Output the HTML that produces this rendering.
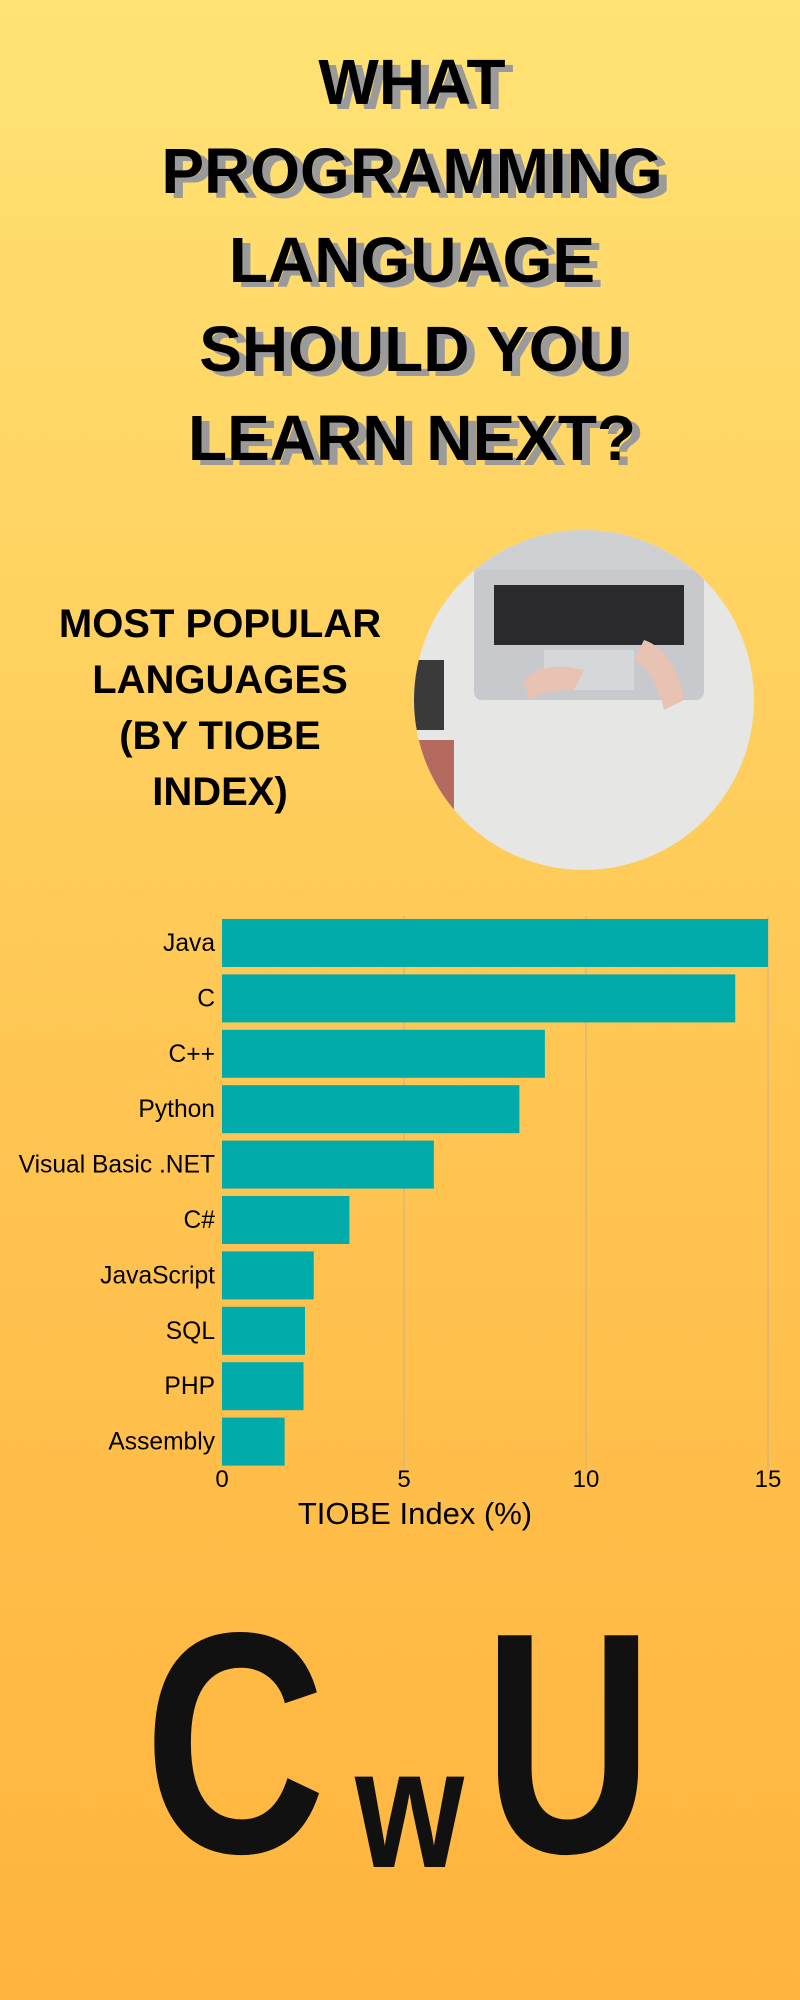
<!DOCTYPE html>
<html><head><meta charset="utf-8"><style>
body{margin:0;width:800px;height:2000px;overflow:hidden;background:linear-gradient(#FFE374,#FFC552 55%,#FFB43E);font-family:"Liberation Sans",sans-serif;position:relative}
.t{position:absolute;left:12px;width:800px;text-align:center;font-weight:bold;font-size:64px;color:#000;text-shadow:8px 5px 0 #9a9a9a;line-height:89px}
.s{position:absolute;left:20px;width:400px;text-align:center;font-weight:bold;font-size:40px;line-height:56px}
.lg{position:absolute;font-weight:bold;color:#111;line-height:1;transform-origin:0 0}
</style></head><body>
<div class="t" style="top:38px">WHAT<br>PROGRAMMING<br>LANGUAGE<br>SHOULD YOU<br>LEARN NEXT?</div>
<div class="s" style="top:596px">MOST POPULAR<br>LANGUAGES<br>(BY TIOBE<br>INDEX)</div>
<svg style="position:absolute;left:414px;top:530px" width="340" height="340">
<defs><clipPath id="cc"><circle cx="170" cy="170" r="170"/></clipPath></defs>
<g clip-path="url(#cc)">
<rect width="340" height="340" fill="#e6e6e4"/>
<rect x="60" y="0" width="220" height="60" fill="#cfd0d2"/>
<rect x="60" y="40" width="230" height="130" rx="8" fill="#c8c9cc"/>
<rect x="80" y="55" width="190" height="60" fill="#2a2a2c"/>
<rect x="130" y="120" width="90" height="40" fill="#d6d7d9"/>
<rect x="0" y="130" width="30" height="70" fill="#3a3a3a"/>
<rect x="0" y="210" width="40" height="110" fill="#b56a60"/>
<path d="M230 110 q30 10 40 60 l-20 10 q-10 -40 -30 -50z" fill="#e8c3b4"/>
<path d="M110 150 q20 -20 60 -10 l-10 20 q-30 0 -45 10z" fill="#e8c3b4"/>
</g></svg>
<svg id="chart" style="position:absolute;left:0;top:0" width="800" height="2000"></svg>
<div class="lg" style="left:144px;top:1586px;font-size:315px;transform:scaleX(0.8)">C</div>
<div class="lg" style="left:355px;top:1723px;font-size:171px;transform:scaleX(0.82)">w</div>
<div class="lg" style="left:484px;top:1586px;font-size:315px;transform:scaleX(0.74)">U</div>
<script>
const categories=["Java","C","C++","Python","Visual Basic .NET","C#","JavaScript","SQL","PHP","Assembly"];
const values=[15.0,14.1,8.87,8.17,5.82,3.5,2.52,2.28,2.24,1.72];
const ticks=[0,5,10,15];
const svg=document.getElementById('chart');const NS="http://www.w3.org/2000/svg";
const x0=222,x1=768,top0=916,step=55.4,bh=48;
const xs=v=>x0+(v-0)/(15-0)*(x1-x0);
function mk(t,a,txt){const e=document.createElementNS(NS,t);for(const k in a)e.setAttribute(k,a[k]);if(txt!=null)e.textContent=txt;svg.appendChild(e);return e;}
ticks.forEach(t=>{
 if(t>0){const g=mk('line',{x1:xs(t),x2:xs(t),y1:top0,y2:top0+step*categories.length,stroke:'#c9b08a','stroke-width':1});
 
 }
 const l=mk('text',{x:xs(t),y:1487,'font-size':24,'text-anchor':'middle','font-family':'Liberation Sans'},t);
 
 
});
categories.forEach((c,i)=>{
 const y=top0+i*step+3;
 const b=mk('rect',{x:x0,y:y,width:xs(values[i])-x0,height:bh,fill:'#00ABA9'});
 
 
 const l=mk('text',{x:215,y:y+bh/2+8,'font-size':24.6,'text-anchor':'end','font-family':'Liberation Sans'},c);
 
 
});
const at=mk('text',{x:415,y:1524,'font-size':31,'text-anchor':'middle','font-family':'Liberation Sans'},'TIOBE Index (%)');


</script>
</body></html>
